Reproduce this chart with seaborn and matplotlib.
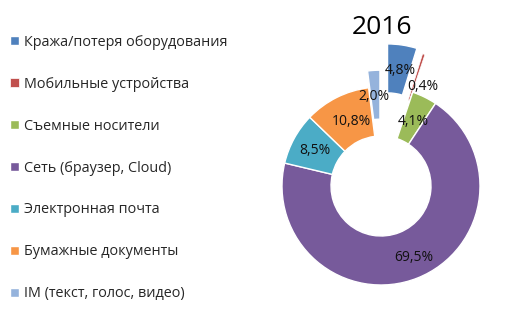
import matplotlib
matplotlib.use("Agg")
import matplotlib.pyplot as plt
import seaborn as sns

# Data: channels of information leaks, 2016 (percent)
categories = [
    "Кража/потеря оборудования",
    "Мобильные устройства",
    "Съемные носители",
    "Сеть (браузер, Cloud)",
    "Электронная почта",
    "Бумажные документы",
    "IM (текст, голос, видео)",
]
shares = [4.8, 0.4, 4.1, 69.5, 8.5, 10.8, 2.0]
value_labels = ["4,8%", "0,4%", "4,1%", "69,5%", "8,5%", "10,8%", "2,0%"]
year = "2016"

sns.set_theme(style="white")
plt.rcParams["font.family"] = ["Open Sans", "DejaVu Sans"]

colors = sns.color_palette(
    ["#4F81BD", "#C0504D", "#9BBB59", "#775A9B", "#4BACC6", "#F79646", "#95B3DC"]
)
explode = [0.44, 0.40, 0.0, 0.0, 0.0, 0.0, 0.17]

W, H = 507, 333
fig = plt.figure(figsize=(W / 100, H / 100), dpi=100)
ax = fig.add_axes([0, 0, 1, 1])

wedges, _ = ax.pie(
    shares,
    colors=colors,
    explode=explode,
    startangle=90,
    counterclock=False,
    radius=1.0,
    wedgeprops=dict(width=0.495, edgecolor="white", linewidth=1.0),
)
# a thinner outline on the tiny slice so it stays visible
wedges[1].set_linewidth(0.5)

# place the donut: centre at (381, 186) px, 99 px per unit radius
cx, cy, scale = 381, H - 186, 99
ax.set_xlim(-cx / scale, (W - cx) / scale)
ax.set_ylim(-cy / scale, (H - cy) / scale)
ax.set_aspect("auto")
ax.axis("off")

# value label positions (data units)
label_pos = [(0.20, 1.17), (0.42, 1.01), (0.33, 0.65), (0.33, -0.72),
             (-0.67, 0.36), (-0.30, 0.65), (-0.07, 0.90)]
for (x, y), txt in zip(label_pos, value_labels):
    ax.text(x, y, txt, ha="center", va="center", fontsize=10, color="#111111")

fig.text(382 / W, 1 - 28 / H, year, ha="center", va="center",
         fontsize=19, color="black")

fig.legend(
    wedges, categories,
    loc="upper left",
    bbox_to_anchor=(10 / W, 1 - 35 / H),
    frameon=False,
    fontsize=10.4,
    handlelength=0.6, handleheight=0.6,
    handletextpad=0.35,
    labelspacing=1.86,
    borderpad=0, borderaxespad=0,
)

fig.savefig("out.png", dpi=100)
